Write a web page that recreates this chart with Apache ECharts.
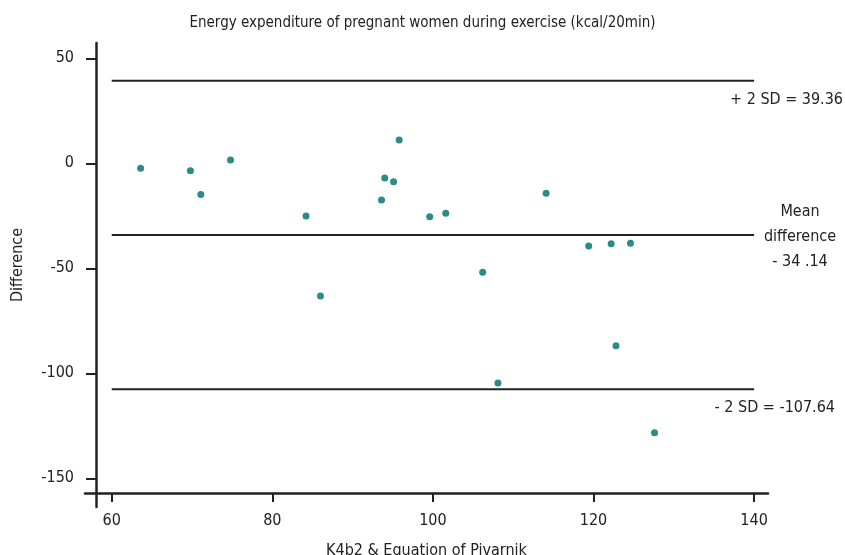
<!DOCTYPE html>
<html>
<head>
<meta charset="utf-8">
<script src="https://cdn.jsdelivr.net/npm/echarts@6/dist/echarts.min.js"></script>
<style>
  html, body { margin: 0; padding: 0; background: #fff; }
  #chart { width: 845px; height: 555px; }
</style>
</head>
<body>
<div id="chart"></div>
<script>
// mean of the two methods vs difference (Bland-Altman)
const meanValues = [63.6, 69.8, 71.1, 74.8, 84.2, 86.0, 93.6, 94.0, 95.1, 95.8, 99.6, 101.6,
  106.2, 108.1, 114.1, 119.4, 122.2, 122.8, 124.6, 127.6]
const diffValues = [-2.4, -3.5, -14.9, 1.6, -25.1, -63.2, -17.5, -7.0, -8.8, 11.1, -25.4, -23.8,
  -51.9, -104.6, -14.3, -39.4, -38.3, -86.9, -38.1, -128.3]

const upperLimit = 39.36
const meanDiff = -34.14
const lowerLimit = -107.64
const lineRange = [60, 140]

const xTicks = [60, 80, 100, 120, 140]
const yTicks = [-150, -100, -50, 0, 50]

const font = '"DejaVu Sans Condensed", "Liberation Sans Narrow", sans-serif'

const points = meanValues.map((x, i) => [x, diffValues[i]])
const hLine = (v) => lineRange.map((x) => [x, v])

const chart = echarts.init(document.getElementById('chart'))
chart.setOption({
  animation: false,
  textStyle: { fontFamily: font },
  title: {
    text: 'Energy expenditure of pregnant women during exercise (kcal/20min)',
    left: 'center',
    top: 11,
    textStyle: { fontFamily: font, fontSize: 15, fontWeight: 'normal', color: '#222' },
  },
  // keep the grid exactly where it is, even if the axis name runs past the bottom
  grid: { left: 85, right: 77, top: 43, bottom: 48, outerBoundsMode: 'none', containLabel: false },
  xAxis: {
    type: 'value',
    min: 56.675,
    max: 141.73,
    offset: -14,
    name: 'K4b2 & Equation of Pivarnik',
    nameLocation: 'middle',
    nameGap: 50,
    nameTextStyle: { fontFamily: font, fontSize: 16, color: '#222' },
    axisLine: { onZero: false, lineStyle: { color: '#222', width: 2.5 } },
    axisTick: { show: true, length: 9, lineStyle: { color: '#222', width: 2 }, customValues: xTicks },
    axisLabel: { fontFamily: font, fontSize: 16, color: '#222', margin: 20, customValues: xTicks },
    splitLine: { show: false },
  },
  yAxis: {
    type: 'value',
    min: -163.67,
    max: 57.29,
    offset: -11,
    axisLine: { onZero: false, lineStyle: { color: '#222', width: 2.5 } },
    axisTick: { show: true, length: 10, lineStyle: { color: '#222', width: 2 }, customValues: yTicks },
    axisLabel: { fontFamily: font, fontSize: 16, color: '#222', margin: 22, customValues: yTicks },
    splitLine: { show: false },
  },
  series: [
    {
      type: 'line',
      data: hLine(upperLimit),
      symbol: 'none',
      lineStyle: { color: '#222', width: 2 },
    },
    {
      type: 'line',
      data: hLine(meanDiff),
      symbol: 'none',
      lineStyle: { color: '#222', width: 2 },
    },
    {
      type: 'line',
      data: hLine(lowerLimit),
      symbol: 'none',
      lineStyle: { color: '#222', width: 2 },
    },
    {
      type: 'scatter',
      data: points,
      symbolSize: 7,
      itemStyle: { color: '#2a8c85', opacity: 1 },
    },
  ],
  graphic: [
    {
      type: 'text',
      x: 18,
      y: 265,
      rotation: Math.PI / 2,
      style: { text: 'Difference', align: 'center', verticalAlign: 'middle', font: '16px ' + font, fill: '#222' },
    },
    {
      type: 'text',
      style: { x: 843, y: 100, text: '+ 2 SD = ' + upperLimit, align: 'right', verticalAlign: 'middle', font: '16px ' + font, fill: '#222' },
    },
    {
      type: 'text',
      style: { x: 800, y: 237, text: 'Mean\ndifference\n- 34 .14', align: 'center', verticalAlign: 'middle', font: '16px ' + font, lineHeight: 25, fill: '#222' },
    },
    {
      type: 'text',
      style: { x: 835, y: 408, text: '- 2 SD = ' + lowerLimit, align: 'right', verticalAlign: 'middle', font: '16px ' + font, fill: '#222' },
    },
  ],
})
</script>
</body>
</html>
